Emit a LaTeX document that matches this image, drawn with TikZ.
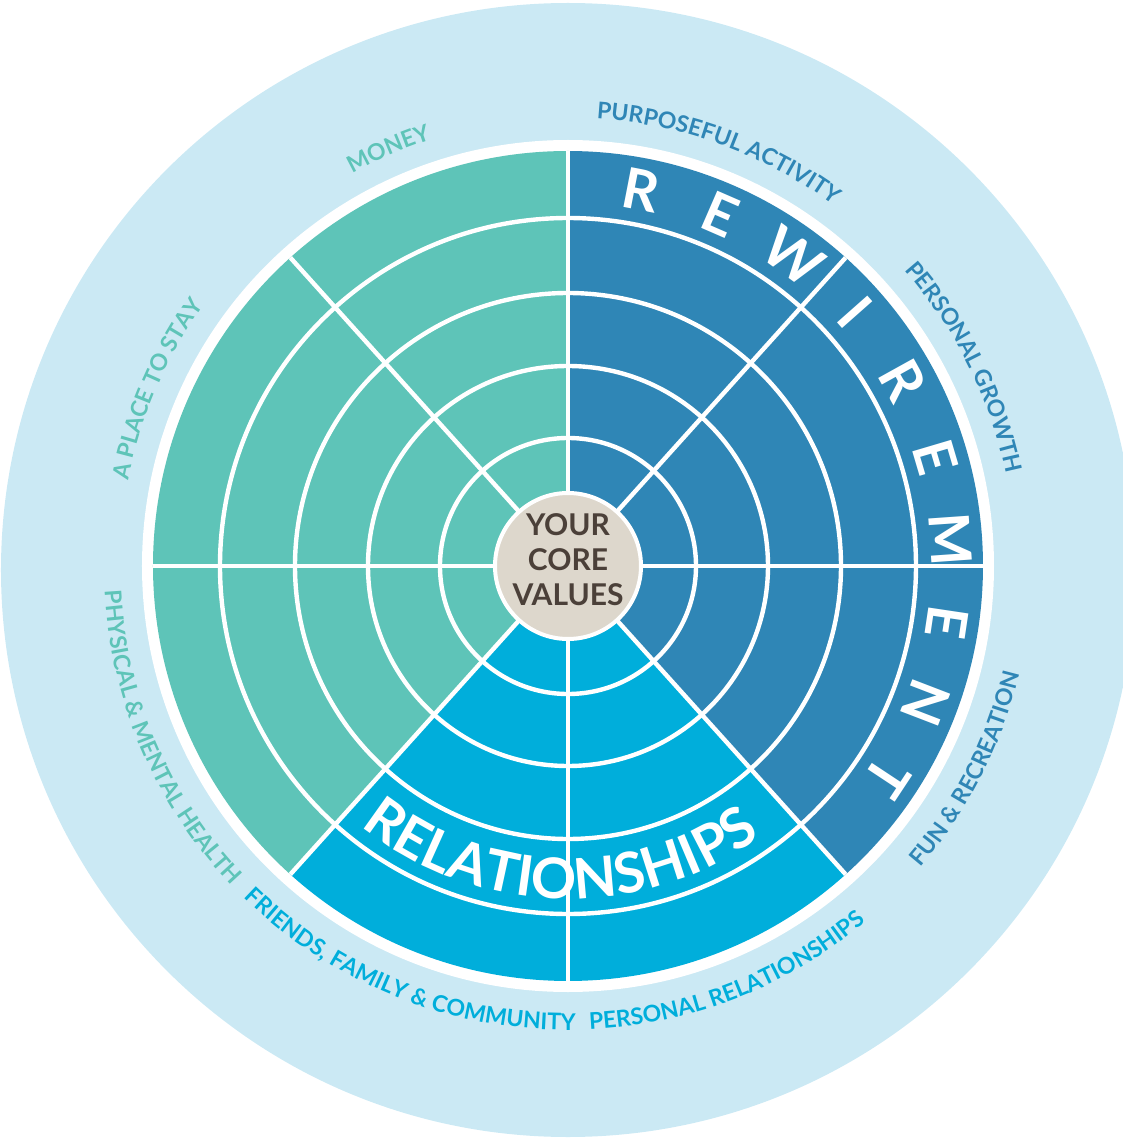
\documentclass[tikz,border=0pt]{standalone}
\usepackage{fontspec}
\setmainfont{Lato}
\usepackage{tikz}
\usetikzlibrary{decorations.text}
\usepackage{xcolor}
\definecolor{skyback}{HTML}{CBE9F4}
\definecolor{tealval}{HTML}{5EC4B8}
\definecolor{blueval}{HTML}{2F86B6}
\definecolor{cyanval}{HTML}{00AEDB}
\definecolor{coreback}{HTML}{DDD7CC}
\definecolor{coretext}{HTML}{4B4039}
\newcommand{\lblfont}{\fontsize{11.5}{12}\selectfont\bfseries}

\begin{document}
\begin{tikzpicture}[x=0.5pt, y=0.5pt,
  gridline/.style={white, line width=2.2pt},
  bigletter/.style={white, inner sep=0pt, font=\fontsize{28}{28}\selectfont\bfseries},
  ringtext/.style={decorate, decoration={text along path, text align=center, text={#1}}}]
\useasboundingbox (-568,-575) rectangle (555,566);

% Background discs
\begin{scope}
\clip (-568,-575) rectangle (555,566);
\fill[skyback] (0,-4) circle[radius=567];
\end{scope}
\fill[white] (0,0) circle[radius=426];

% Three coloured parts of the wheel
\fill[tealval] (0,0) -- (90:415) arc[start angle=90, end angle=228, radius=415] -- cycle;
\fill[cyanval] (0,0) -- (228:415) arc[start angle=228, end angle=312, radius=415] -- cycle;
\fill[blueval] (0,0) -- (312:415) arc[start angle=312, end angle=450, radius=415] -- cycle;

% Rings and spokes
\foreach \r in {128,200,273,348}
  \draw[gridline] (0,0) circle[radius=\r];
\foreach \a in {0,48,90,132,180,228,270,312}
  \draw[gridline] (0,0) -- (\a:415);

% Core values
\node[circle, fill=coreback, draw=white, line width=2pt, minimum size=73pt] (core) at (0,0) {};
\node[align=center, text=coretext, font=\fontsize{15}{17.5}\selectfont\bfseries] (corelabel) at (0,6) {YOUR\\CORE\\VALUES};

% Rewirement letters
\foreach \ltr [count=\i from 0] in {R,E,W,I,R,E,M,E,N,T} {
  \pgfmathsetmacro\ang{79-12.5*\i}
  \node[bigletter, rotate=\ang-90] (rew\i) at (\ang:383) {\ltr};
}

% Relationships band
\path[ringtext={|\fontsize{28}{28}\selectfont\bfseries\color{white}|RELATIONSHIPS}]
  (208.5:333) arc[start angle=208.5, end angle=328.5, radius=333];

% Outer labels, top half
\path[ringtext={|\lblfont\color{tealval}|MONEY}]
  (143.3:448) arc[start angle=143.3, end angle=83.3, radius=448];
\path[ringtext={|\lblfont\color{blueval}|PURPOSEFUL ACTIVITY}]
  (110:448) arc[start angle=110, end angle=30, radius=448];
\path[ringtext={|\lblfont\color{blueval}|PERSONAL GROWTH}]
  (66.6:448) arc[start angle=66.6, end angle=-13.4, radius=448];
\path[ringtext={|\lblfont\color{tealval}|A PLACE TO STAY}]
  (196.7:448) arc[start angle=196.7, end angle=116.7, radius=448];

% Outer labels, bottom half
\path[ringtext={|\lblfont\color{tealval}|PHYSICAL {\&} MENTAL HEALTH}]
  (143.3:464) arc[start angle=143.3, end angle=263.3, radius=464];
\path[ringtext={|\lblfont\color{cyanval}|FRIENDS, FAMILY {\&} COMMUNITY}]
  (188.3:464) arc[start angle=188.3, end angle=308.3, radius=464];
\path[ringtext={|\lblfont\color{cyanval}|PERSONAL RELATIONSHIPS}]
  (231.3:464) arc[start angle=231.3, end angle=351.3, radius=464];
\path[ringtext={|\lblfont\color{blueval}|FUN {\&} RECREATION}]
  (-87:464) arc[start angle=-87, end angle=33, radius=464];
\end{tikzpicture}
\end{document}
